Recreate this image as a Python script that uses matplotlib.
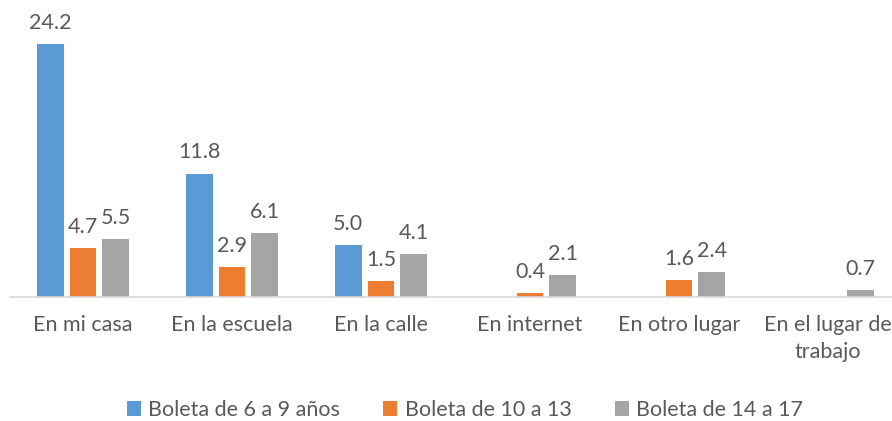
import matplotlib.pyplot as plt
import numpy as np

categories = ["En mi casa", "En la escuela", "En la calle", "En internet",
              "En otro lugar", "En el lugar de\ntrabajo"]
series_names = ["Boleta de 6 a 9 años", "Boleta de 10 a 13", "Boleta de 14 a 17"]
boleta_6_9 = [24.2, 11.8, 5.0, np.nan, np.nan, np.nan]
boleta_10_13 = [4.7, 2.9, 1.5, 0.4, 1.6, np.nan]
boleta_14_17 = [5.5, 6.1, 4.1, 2.1, 2.4, 0.7]
colors = ["#5B9BD5", "#ED7D31", "#A5A5A5"]

text_color = "#595959"
fs = 15.5
plt.rcParams["font.family"] = ["Lato", "DejaVu Sans"]

fig = plt.figure(figsize=(8.92, 4.21), dpi=100)
# axes run past the right edge, like the cropped original
ax = fig.add_axes([10 / 892, 124 / 421, 1 - 10 / 892, 293 / 421])

x = np.arange(len(categories))
width = 0.18
offsets = [-0.22, 0.0, 0.22]
for vals, off, col, name in zip([boleta_6_9, boleta_10_13, boleta_14_17],
                                offsets, colors, series_names):
    vals = np.array(vals, dtype=float)
    bars = ax.bar(x + off, vals, width, color=col, label=name)
    for b, v in zip(bars, vals):
        if np.isnan(v):
            continue
        ax.annotate(f"{v:.1f}", (b.get_x() + b.get_width() / 2, v),
                    xytext=(0, 8), textcoords="offset points",
                    ha="center", va="bottom", fontsize=fs, color=text_color)

ax.set_xlim(-0.49, 5.43)
ax.set_ylim(0, 28)
ax.set_xticks(x)
ax.set_xticklabels(categories, fontsize=fs, color=text_color, linespacing=1.45)
ax.tick_params(axis="x", length=0, pad=13)
ax.set_yticks([])
for side in ["top", "right", "left"]:
    ax.spines[side].set_visible(False)
ax.spines["bottom"].set_color("#D9D9D9")
ax.spines["bottom"].set_linewidth(1.2)

fig.legend(loc="center", bbox_to_anchor=(465 / 892, 11 / 421), ncol=3,
           frameon=False, fontsize=fs, labelcolor=text_color,
           handlelength=0.65, handleheight=0.65, handletextpad=0.35,
           columnspacing=2.0)

fig.savefig("out.png", dpi=100)
